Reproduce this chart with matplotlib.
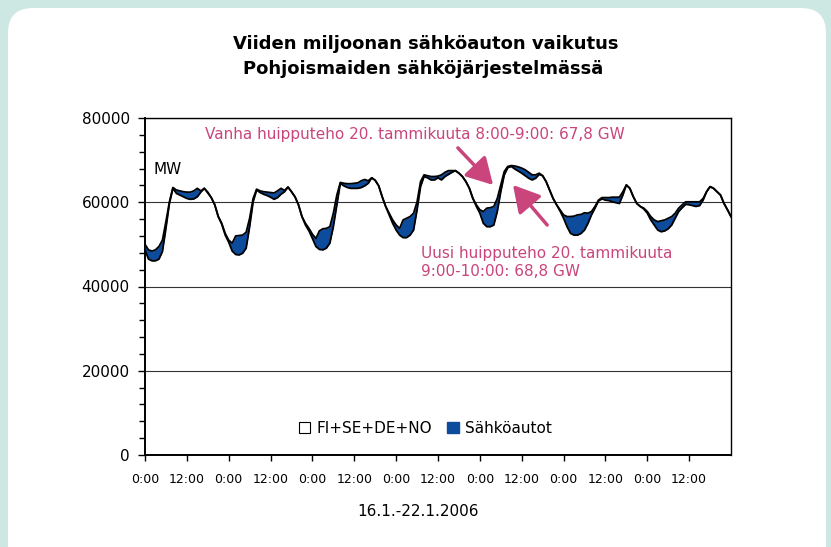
import numpy as np
import matplotlib
matplotlib.use("Agg")
import matplotlib.pyplot as plt
from matplotlib.patches import FancyBboxPatch, Patch
from matplotlib.ticker import MultipleLocator

plt.rcParams['font.family'] = ['DejaVu Sans']

# tuntiarvot 16.1.-22.1.2006, MW (luettu kuvasta)
hours = np.arange(169)
base = [48700, 46500, 46100, 46100, 46500, 48300, 53800, 59700, 63300, 62100,
        61700, 61300, 60900, 60700, 60800, 61300, 62400, 63300, 62200, 61100,
        59400, 56600, 54800, 52200,
        50500, 48400, 47600, 47500, 47900, 49100, 54200, 60100, 62900, 62300,
        61900, 61600, 61200, 60700, 61100, 61900, 62500, 63600, 62500, 61300,
        59400, 56600, 54600, 53200,
        51400, 49500, 48800, 48700, 49100, 50300, 54200, 59400, 64500, 63900,
        63500, 63300, 63300, 63300, 63500, 63900, 64500, 65800, 65200, 63900,
        61300, 59000, 57000, 55000,
        53400, 52200, 51600, 51600, 52200, 53400, 58200, 63700, 66100, 65800,
        65300, 65300, 65800, 65300, 66100, 66600, 67100, 67500, 66900, 66100,
        64900, 63300, 60900, 59000,
        57400, 55000, 54200, 54200, 54600, 57800, 62500, 66500, 68200, 68500,
        67900, 67400, 66900, 66300, 65700, 65300, 65700, 66600, 66300, 64900,
        62900, 60900, 59400, 57900,
        56200, 54200, 52600, 52200, 52200, 52600, 53400, 55000, 57000, 58600,
        60300, 60800, 60500, 60400, 60100, 59900, 59700, 61700, 64100, 63300,
        61300, 59700, 59000, 58400,
        57400, 55800, 54600, 53400, 53000, 53200, 53700, 54600, 56200, 57800,
        58700, 59500, 59400, 59200, 59000, 59200, 60500, 62500, 63700, 63300,
        62500, 61700, 59700, 58200,
        56600]
total = [50000, 48700, 48400, 48700, 49500, 51000, 55400, 60100, 63500, 62900,
         62700, 62500, 62400, 62400, 62700, 63300, 62700, 63300, 62400, 61100,
         59400, 56600, 55000, 52600,
         51000, 50300, 52000, 52100, 52200, 52900, 56200, 60900, 63100, 62700,
         62500, 62400, 62300, 62200, 62700, 63300, 62800, 63600, 62500, 61300,
         59400, 56600, 55000, 53800,
         52400, 51400, 53200, 53700, 53800, 54200, 57400, 61700, 64700, 64500,
         64400, 64400, 64500, 64600, 65100, 65400, 65100, 65800, 65200, 63900,
         61300, 59000, 57400, 55800,
         54600, 53800, 55800, 56200, 56600, 57400, 60100, 64900, 66500, 66300,
         66100, 66100, 66200, 66500, 67100, 67500, 67500, 67500, 66900, 66100,
         64900, 63300, 60900, 59400,
         58200, 57800, 58600, 58700, 59000, 60900, 64100, 67300, 68500, 68700,
         68600, 68400, 68100, 67700, 67100, 66500, 66500, 66900, 66300, 64900,
         62900, 60900, 59400, 58200,
         57000, 56600, 56600, 56700, 57000, 57100, 57500, 57400, 57800, 59000,
         60500, 61100, 61100, 61100, 61200, 61200, 61200, 62500, 64100, 63300,
         61300, 59700, 59000, 58600,
         57800, 56600, 55800, 55400, 55600, 55800, 56200, 56600, 57400, 58600,
         59400, 60100, 60100, 60100, 60100, 60100, 60900, 62500, 63700, 63300,
         62500, 61700, 59700, 58200,
         56600]

tick_hours = np.arange(0, 168, 12)
tick_labels = ['0:00', '12:00'] * 7

blue = '#0d4b9c'
pink = '#c9457c'

fig = plt.figure(figsize=(8.31, 5.47), dpi=100)
fig.patch.set_facecolor('#cde8e3')
box = FancyBboxPatch((0.08, -0.3), 8.18, 5.69, boxstyle='round,pad=0,rounding_size=0.25',
                     transform=fig.dpi_scale_trans, facecolor='white', edgecolor='none', zorder=-10)
fig.patches.append(box)

ax = fig.add_axes([145/831, 92/547, 586/831, 337/547])
ax.set_facecolor('white')

ax.fill_between(hours, base, total, color=blue, lw=0, zorder=3)
ax.plot(hours, total, color='black', lw=1.3, zorder=4)
ax.plot(hours, base, color='black', lw=1.3, zorder=4)

ax.set_xlim(0, 168)
ax.set_ylim(0, 80000)
ax.set_xticks(tick_hours)
ax.set_xticklabels(tick_labels, fontsize=9)
ax.yaxis.set_major_locator(MultipleLocator(20000))
ax.yaxis.set_minor_locator(MultipleLocator(4000))
ax.tick_params(axis='y', which='major', labelsize=11, length=5, width=1, pad=6)
ax.tick_params(axis='y', which='minor', length=4, width=1)
ax.tick_params(axis='x', length=4, width=1, pad=9, labelsize=9)
ax.grid(axis='y', which='major', color='#333333', lw=0.8, zorder=1)
for s in ax.spines.values():
    s.set_linewidth(1.0)
ax.spines['left'].set_linewidth(1.4)
ax.spines['bottom'].set_linewidth(1.4)

ax.text(2.3, 67700, 'MW', fontsize=11, va='center', ha='left')

ax.annotate('', xy=(99.8, 64100), xytext=(89.7, 72900),
            arrowprops=dict(arrowstyle='-|>,head_length=0.8,head_width=0.45', color=pink,
                            lw=2.5, mutation_scale=20, shrinkA=0, shrinkB=0), zorder=6)
ax.annotate('', xy=(105.5, 64100), xytext=(115.3, 54600),
            arrowprops=dict(arrowstyle='-|>,head_length=0.8,head_width=0.45', color=pink,
                            lw=2.5, mutation_scale=20, shrinkA=0, shrinkB=0), zorder=6)
ax.text(17.2, 76000, 'Vanha huipputeho 20. tammikuuta 8:00-9:00: 67,8 GW',
        color=pink, fontsize=11, va='center', ha='left')
ax.text(79.1, 45600, 'Uusi huipputeho 20. tammikuuta\n9:00-10:00: 68,8 GW',
        color=pink, fontsize=11, va='center', ha='left', linespacing=1.25)

handles = [Patch(facecolor='white', edgecolor='black', lw=0.8),
           Patch(facecolor=blue, edgecolor=blue)]
ax.legend(handles, ['FI+SE+DE+NO', 'Sähköautot'], ncol=2, frameon=False, loc='center',
          bbox_to_anchor=(0.478, 0.08), handlelength=0.75, handleheight=0.75,
          handletextpad=0.4, columnspacing=1.0, fontsize=11)

fig.text(426/831, 1 - 44/547, 'Viiden miljoonan sähköauton vaikutus', ha='center', va='center',
         fontsize=13, fontweight='bold')
fig.text(423/831, 1 - 69/547, 'Pohjoismaiden sähköjärjestelmässä', ha='center', va='center',
         fontsize=13, fontweight='bold')
fig.text(418/831, 1 - 512/547, '16.1.-22.1.2006', ha='center', va='center', fontsize=11)

fig.savefig('out.png', dpi=100)
